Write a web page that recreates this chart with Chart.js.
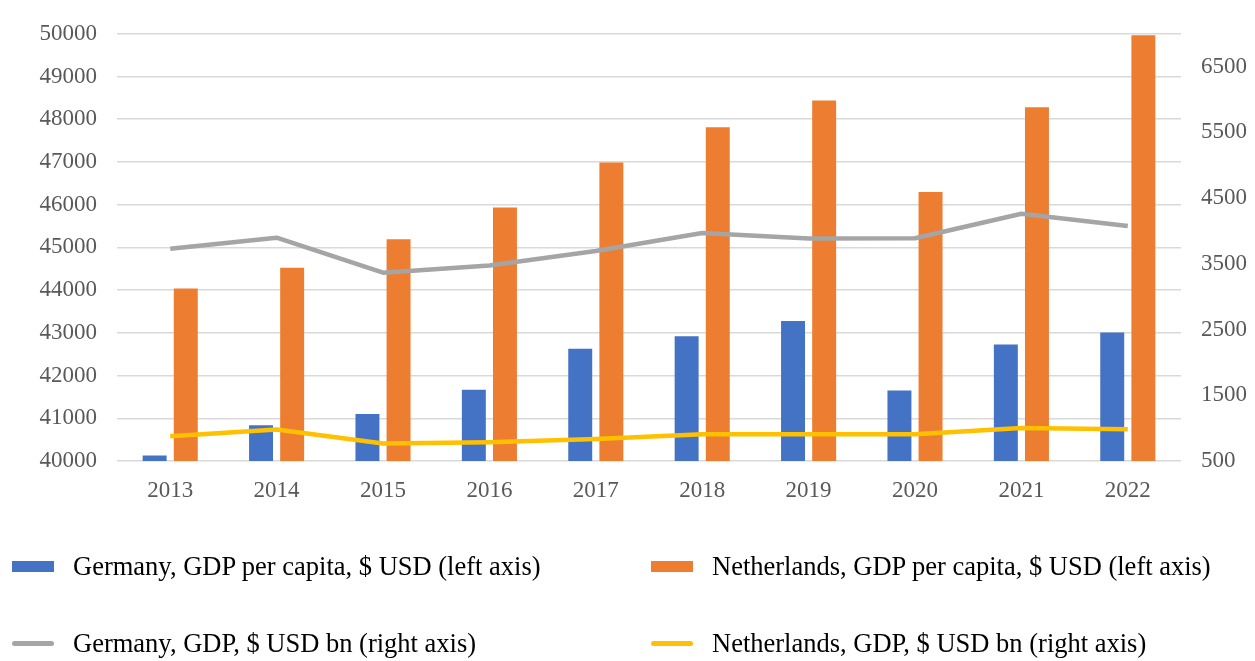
<!DOCTYPE html>
<html>
<head>
<meta charset="utf-8">
<script src="https://cdn.jsdelivr.net/npm/chart.js@4.4.1/dist/chart.umd.min.js"></script>
<style>
  body { margin: 0; background: #fff; }
  #wrap { position: relative; width: 1255px; height: 661px; }
  #legend { position: absolute; left: 0; top: 0; width: 1255px; height: 661px; pointer-events: none;
            font-family: "Liberation Serif", "Times New Roman", serif; font-size: 26.5px; color: #000; }
  .item { position: absolute; display: flex; align-items: center; height: 30px; white-space: nowrap; }
  .swatch { width: 42px; margin-right: 19px; }
</style>
</head>
<body>
<div id="wrap">
  <canvas id="gdpChart" width="1255" height="661"></canvas>
  <div id="legend"></div>
</div>
<script>
// Data
const years = ['2013', '2014', '2015', '2016', '2017', '2018', '2019', '2020', '2021', '2022'];
const germanyPerCapita = [40130, 40835, 41100, 41670, 42630, 42920, 43275, 41650, 42725, 43010];
const netherlandsPerCapita = [44040, 44525, 45190, 45935, 46990, 47810, 48440, 46295, 48280, 49967];
const germanyGdp = [3730, 3898, 3365, 3476, 3694, 3968, 3887, 3890, 4263, 4074];
const netherlandsGdp = [876, 978, 765, 784, 835, 906, 906, 906, 1002, 982];
const rightTicks = [500, 1500, 2500, 3500, 4500, 5500, 6500];

const blue = '#4472C4';
const orange = '#ED7D31';
const grey = '#A5A5A5';
const yellow = '#FFC000';
const serif = '"Liberation Serif", "Times New Roman", serif';

// Plain numbers on the axes, no separators
function plain(value) {
  return String(value);
}

// Chart setup =========================
const data = {
  labels: years,
  datasets: [{
    type: 'line',
    label: 'Germany, GDP, $ USD bn (right axis)',
    data: germanyGdp,
    yAxisID: 'y2',
    borderColor: grey,
    borderWidth: 4.5,
    pointRadius: 0,
    borderJoinStyle: 'round',
    order: 0
  }, {
    type: 'line',
    label: 'Netherlands, GDP, $ USD bn (right axis)',
    data: netherlandsGdp,
    yAxisID: 'y2',
    borderColor: yellow,
    borderWidth: 4.5,
    pointRadius: 0,
    borderJoinStyle: 'round',
    order: 0
  }, {
    label: 'Germany, GDP per capita, $ USD (left axis)',
    data: germanyPerCapita,
    yAxisID: 'y',
    backgroundColor: blue,
    order: 1
  }, {
    label: 'Netherlands, GDP per capita, $ USD (left axis)',
    data: netherlandsPerCapita,
    yAxisID: 'y',
    backgroundColor: orange,
    order: 1
  }]
};

const config = {
  type: 'bar',
  data: data,
  options: {
    responsive: false,
    animation: false,
    categoryPercentage: 0.585,
    barPercentage: 0.77,
    layout: { padding: { top: 33, bottom: 150, left: 0, right: 0 } },
    plugins: {
      legend: { display: false },
      tooltip: { enabled: false }
    },
    scales: {
      x: {
        grid: { display: false },
        border: { display: false },
        ticks: { color: '#595959', font: { family: serif, size: 23 }, padding: 8 },
        afterFit: function(scale) { scale.height = 50; }
      },
      y: {
        position: 'left',
        min: 40000,
        max: 50000,
        ticks: { stepSize: 1000, color: '#595959', font: { family: serif, size: 23 }, padding: 20, callback: plain },
        grid: { color: '#D9D9D9', lineWidth: 1.5, drawTicks: false },
        border: { display: false },
        afterFit: function(scale) { scale.width = 117; }
      },
      y2: {
        position: 'right',
        min: 500,
        max: 7000,
        afterBuildTicks: function(scale) {
          scale.ticks = rightTicks.map(v => ({ value: v }));
        },
        ticks: { color: '#595959', font: { family: serif, size: 23 }, padding: 20, callback: plain },
        grid: { display: false, drawTicks: false },
        border: { display: false },
        afterFit: function(scale) { scale.width = 74; }
      }
    }
  }
};

const gdpChart = new Chart(document.getElementById('gdpChart'), config);

// Legend, two columns like the original
const legendItems = [
  { text: data.datasets[2].label, color: blue, kind: 'box', left: 12, top: 551 },
  { text: data.datasets[3].label, color: orange, kind: 'box', left: 651, top: 551 },
  { text: data.datasets[0].label, color: grey, kind: 'line', left: 12, top: 628 },
  { text: data.datasets[1].label, color: yellow, kind: 'line', left: 651, top: 628 }
];
const legend = document.getElementById('legend');
legendItems.forEach(it => {
  const div = document.createElement('div');
  div.className = 'item';
  div.style.left = it.left + 'px';
  div.style.top = it.top + 'px';
  const sw = document.createElement('div');
  sw.className = 'swatch';
  sw.style.background = it.color;
  sw.style.height = it.kind === 'box' ? '11px' : '5px';
  if (it.kind === 'line') sw.style.borderRadius = '3px';
  div.appendChild(sw);
  const span = document.createElement('span');
  span.textContent = it.text;
  div.appendChild(span);
  legend.appendChild(div);
});
</script>
</body>
</html>
